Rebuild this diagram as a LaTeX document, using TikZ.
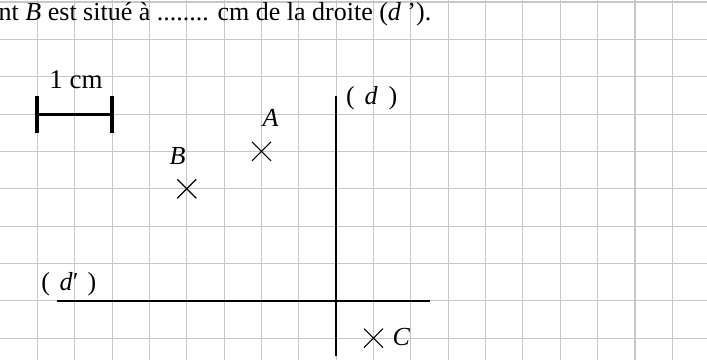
\documentclass[tikz,border=0pt]{standalone}
\usepackage{fontspec}
\setmainfont{Liberation Serif}
\begin{document}
\begin{tikzpicture}[x=1pt,y=-1pt,
  gridline/.style={draw=black!22, line width=1.1pt},
  axisline/.style={draw=black, line width=1.8pt},
  crossline/.style={draw=black, line width=1.1pt},
  lab/.style={inner sep=0pt, anchor=base, font=\fontsize{26}{30}\selectfont},
  dlab/.style={inner sep=0pt, anchor=base west, font=\fontsize{26}{30}\selectfont},
  toptext/.style={inner sep=0pt, anchor=base east, font=\fontsize{26}{30}\selectfont}]
\useasboundingbox (0,0) rectangle (707,360);
\fill[white] (0,0) rectangle (707,360);
% grid
\foreach \k in {1,...,18} \draw[gridline] (\k*37.35,0) -- (\k*37.35,360);
\foreach \k in {0,...,9} \draw[gridline] (0,2+\k*37.35) -- (707,2+\k*37.35);
% statement
\node[toptext] (stmt) at (431.5,20) {nt \textit{B} est situé à ........ cm de la droite (\textit{d} ’).};
% scale bar
\coordinate (s1) at (37.35,114.05);
\coordinate (s2) at (112.05,114.05);
\draw[line width=3pt] (s1) -- (s2);
\draw[line width=4pt] ([yshift=-18.5pt]s1) -- ([yshift=18.5pt]s1);
\draw[line width=4pt] ([yshift=-18.5pt]s2) -- ([yshift=18.5pt]s2);
\node[lab, font=\fontsize{27}{30}\selectfont] (cm) at (76,88.3) {1 cm};
% lines (d) and (d')
\coordinate (d1) at (336.15,96);
\coordinate (d2) at (336.15,356);
\coordinate (e1) at (56.7,300.8);
\coordinate (e2) at (430,300.8);
\draw[axisline] (d1) -- (d2);
\draw[axisline] (e1) -- (e2);
\node[dlab] (dl) at (345.9,104) {\makebox[18.6pt][l]{(}\makebox[23.8pt][l]{\textit{d}})};
\node[dlab] (dpl) at (41.3,290) {\makebox[18.2pt][l]{(}\makebox[27.8pt][l]{\textit{d}′})};
% points
\coordinate (A) at (261.45,151.4);
\coordinate (B) at (186.75,188.75);
\coordinate (C) at (373.5,338.15);
\foreach \p in {A,B,C} {
  \draw[crossline] ([shift={(-9.5,-9.5)}]\p) -- ([shift={(9.5,9.5)}]\p);
  \draw[crossline] ([shift={(-9.5,9.5)}]\p) -- ([shift={(9.5,-9.5)}]\p);
}
\node[lab] (Al) at (270.5,126) {\textit{A}};
\node[lab] (Bl) at (177.5,164) {\textit{B}};
\node[lab] (Cl) at (401.5,345) {\textit{C}};
\end{tikzpicture}
\end{document}
